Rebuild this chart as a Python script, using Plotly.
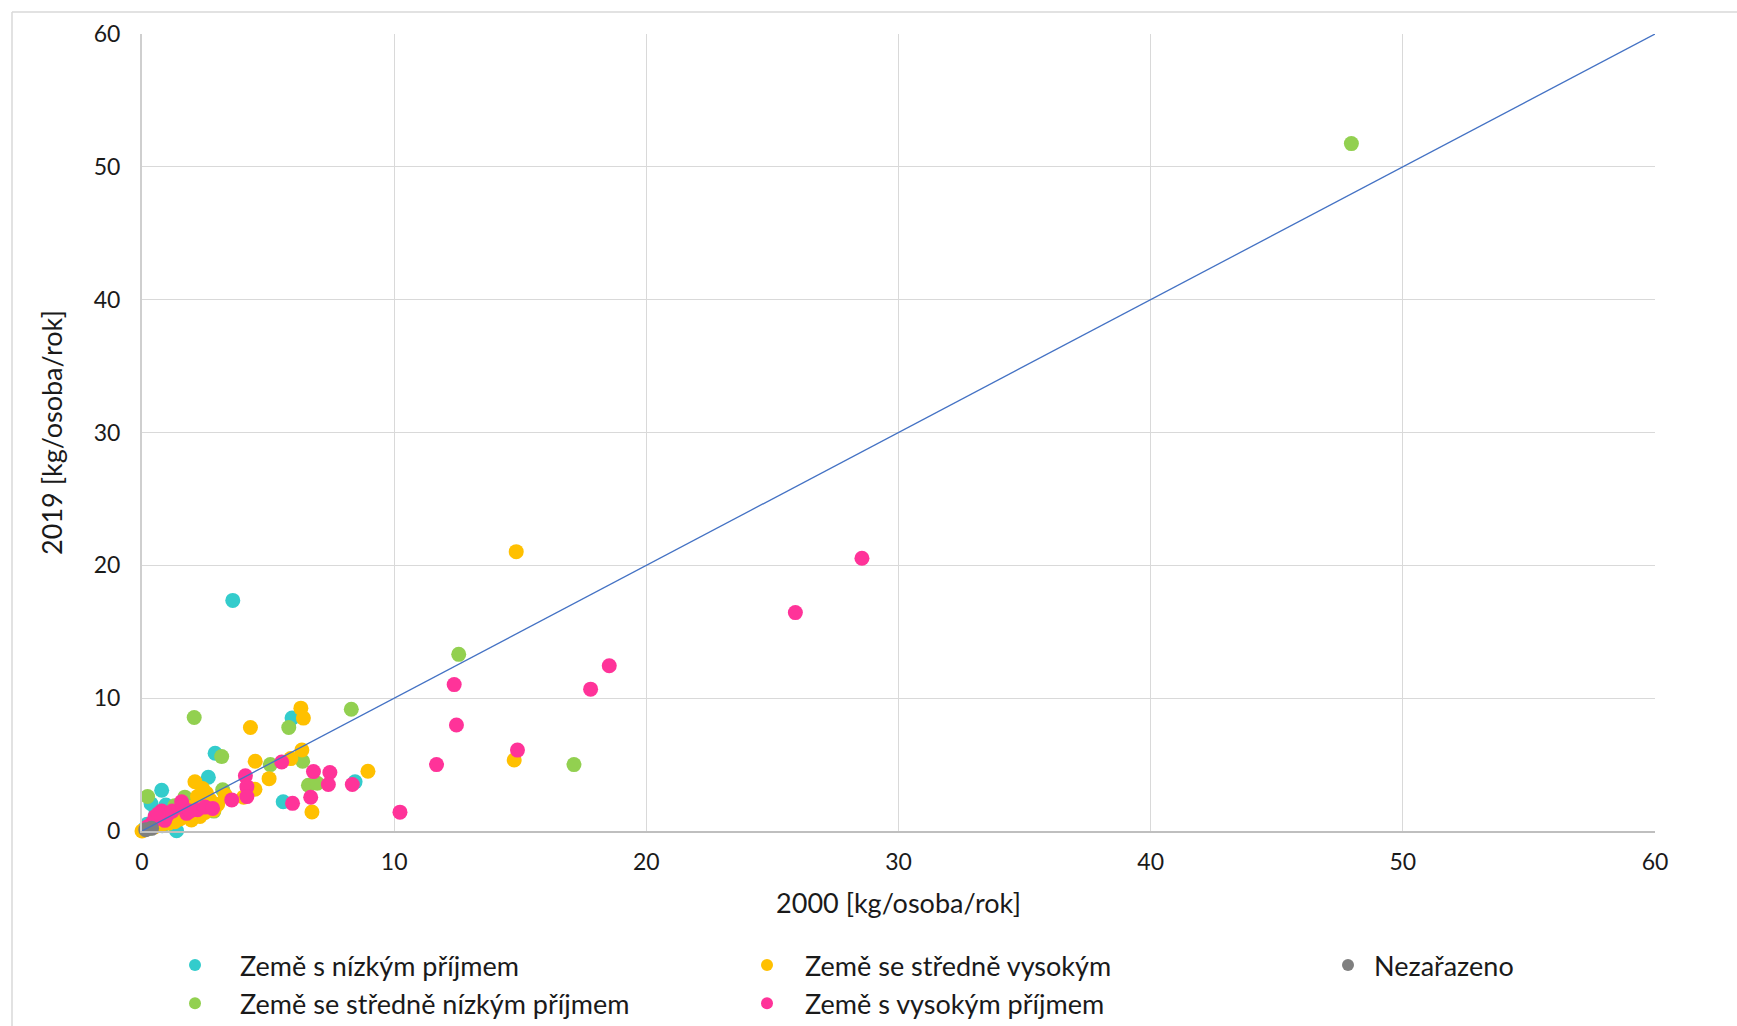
import plotly.graph_objects as go

# ---- data (kg/osoba/rok): x = 2000, y = 2019 ----
low_x = [3.6, 5.95, 2.9, 2.63, 8.45, 5.6, 0.78, 0.36, 0.95, 1.37, 0.55, 0.2, 1.2, 0.8, 1.8, 0.1]
low_y = [17.36, 8.5, 5.85, 4.05, 3.7, 2.2, 3.07, 2.05, 1.96, 0.02, 1.3, 0.5, 1.6, 0.4, 2.1, 0.15]

lowmid_x = [47.96, 12.56, 17.13, 8.3, 2.07, 5.82, 3.16, 5.09, 6.37, 6.6, 3.2, 0.22, 1.7, 2.85, 6.95,
            1.3, 0.6, 2.3, 0.3, 1.0]
lowmid_y = [51.75, 13.3, 5.0, 9.17, 8.54, 7.79, 5.6, 5.0, 5.25, 3.44, 3.1, 2.6, 2.55, 1.5, 3.6,
            1.9, 0.8, 1.9, 0.2, 1.3]

upmid_x = [14.84, 14.76, 8.96, 6.3, 6.4, 4.3, 4.49, 5.9, 6.34, 5.04, 4.48, 6.74, 4.03, 2.1, 2.4,
           2.56, 2.7, 2.85, 1.96, 1.06, 0.0, 2.3, 1.5, 0.8, 3.0, 2.5, 1.7, 1.3, 0.5, 2.2, 2.0, 3.3, 2.6]
upmid_y = [21.03, 5.34, 4.5, 9.25, 8.5, 7.79, 5.25, 5.45, 6.1, 3.94, 3.14, 1.43, 2.55, 3.71, 3.2,
           2.84, 2.33, 1.58, 0.83, 0.58, 0.0, 1.1, 0.9, 0.5, 2.0, 1.4, 1.2, 0.7, 0.3, 2.6, 1.8, 2.7, 2.0]

high_x = [28.55, 25.91, 18.53, 12.38, 17.79, 12.47, 14.89, 11.68, 10.23, 8.34, 7.45, 6.8, 7.39, 6.69,
          5.97, 5.54, 4.1, 4.16, 4.16, 3.56, 1.57, 0.78, 0.52, 1.77, 0.2, 1.2, 2.2, 2.5, 0.9, 0.4,
          1.6, 1.0, 1.9, 0.65, 2.8]
high_y = [20.53, 16.44, 12.44, 11.02, 10.68, 7.98, 6.09, 5.0, 1.42, 3.5, 4.4, 4.47, 3.5, 2.54,
          2.08, 5.2, 4.15, 3.34, 2.59, 2.34, 2.2, 1.5, 1.08, 1.33, 0.3, 1.5, 1.6, 1.8, 0.8, 0.6,
          1.9, 1.2, 1.5, 1.3, 1.7]

uncl_x = [0.38, 0.15]
uncl_y = [0.2, 0.1]

diag_x = [0, 60]
diag_y = [0, 60]

names = ["Země s nízkým příjmem", "Země se středně nízkým příjmem",
         "Země se středně vysokým", "Země s vysokým příjmem", "Nezařazeno"]
colors = ["#33CCCC", "#92D050", "#FFC000", "#FF3399", "#7F7F7F"]
legends = ["legend", "legend", "legend2", "legend2", "legend3"]

series = [(low_x, low_y), (lowmid_x, lowmid_y), (upmid_x, upmid_y), (high_x, high_y), (uncl_x, uncl_y)]

FONT = "Lato, Carlito, Calibri, 'Open Sans', sans-serif"

fig = go.Figure()
for (xs, ys), nm, col, lg in zip(series, names, colors, legends):
    fig.add_trace(go.Scatter(
        x=xs, y=ys, mode="markers", name=nm, legend=lg,
        marker=dict(color=col, size=15, line=dict(width=0)),
        cliponaxis=False,
    ))

fig.add_trace(go.Scatter(x=diag_x, y=diag_y, mode="lines", showlegend=False,
                         line=dict(color="#4472C4", width=1.3), hoverinfo="skip"))

W, H = 1737, 1026
PLOT_L, PLOT_R, PLOT_T, PLOT_B = 142, 1655, 34, 831   # plot area in pixels
L, T, R, B = PLOT_L, PLOT_T, W - PLOT_R, H - PLOT_B
pw = PLOT_R - PLOT_L
ph = PLOT_B - PLOT_T


def px2x(px):
    return (px - PLOT_L) / pw


def py2y(py):
    return (PLOT_B - py) / ph


legend_common = dict(orientation="v", xanchor="left", yanchor="top",
                     font=dict(family=FONT, size=27, color="#1a1a1a"),
                     bgcolor="rgba(0,0,0,0)", itemsizing="constant", tracegroupgap=0)

LEG_TOP = 941

fig.update_layout(
    width=W, height=H,
    margin=dict(l=L, r=R, t=T, b=B, autoexpand=False),
    paper_bgcolor="white", plot_bgcolor="white",
    font=dict(family=FONT, color="#1a1a1a"),
    xaxis=dict(range=[0, 60], dtick=10, showgrid=True, gridcolor="#D9D9D9", gridwidth=1.3,
               zeroline=False, showline=True, linecolor="#BFBFBF", linewidth=2,
               ticks="", tickfont=dict(family=FONT, size=23, color="#1a1a1a"),
               ticklabelstandoff=9, automargin=False,
               title=dict(text="2000 [kg/osoba/rok]", font=dict(family=FONT, size=27, color="#1a1a1a"),
                          standoff=21)),
    yaxis=dict(range=[0, 60], dtick=10, showgrid=True, gridcolor="#D9D9D9", gridwidth=1.3,
               zeroline=False, showline=True, linecolor="#CFCFCF", linewidth=2,
               ticks="", tickfont=dict(family=FONT, size=23, color="#1a1a1a"),
               ticklabelstandoff=15, automargin=False,
               title=dict(text="2019 [kg/osoba/rok]", font=dict(family=FONT, size=27, color="#1a1a1a"),
                          standoff=23)),
    legend=dict(x=px2x(150), y=py2y(LEG_TOP), itemwidth=80, **legend_common),
    legend2=dict(x=px2x(729), y=py2y(LEG_TOP), itemwidth=66, **legend_common),
    legend3=dict(x=px2x(1322), y=py2y(LEG_TOP), itemwidth=42, **legend_common),
    shapes=[
        dict(type="line", xref="paper", yref="paper", x0=px2x(12), x1=px2x(1760),
             y0=py2y(12), y1=py2y(12), line=dict(color="#D9D9D9", width=1.5)),
        dict(type="line", xref="paper", yref="paper", x0=px2x(12), x1=px2x(12),
             y0=py2y(12), y1=py2y(1040), line=dict(color="#D9D9D9", width=1.5)),
    ],
    showlegend=True,
)

fig.write_html(
    "out.html",
    config={"displayModeBar": False},
    post_script="document.body.style.margin='0';document.body.style.overflow='hidden';",
)
